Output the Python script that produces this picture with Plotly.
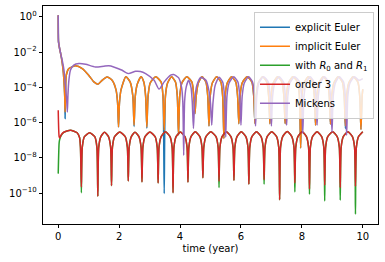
import plotly.graph_objects as go

# ---------------- data (log10 of the error) ----------------
# time points for the two low-error schemes (order 3 / with R0 and R1)
T_LOW = [0.00, 0.03, 0.05, 0.09, 0.18, 0.40, 0.62, 0.70, 0.73,
         0.76, 0.79, 0.86, 1.03, 1.20, 1.27,
         1.30, 1.33, 1.40, 1.52, 1.65, 1.72,
         1.75, 1.78, 1.85, 2.02, 2.20, 2.27,
         2.30, 2.33, 2.40, 2.52, 2.65, 2.72,
         2.75, 2.78, 2.85, 3.01, 3.18, 3.25,
         3.28, 3.31, 3.38, 3.52, 3.67, 3.74,
         3.77, 3.80, 3.87, 4.01, 4.16, 4.23,
         4.26, 4.29, 4.36, 4.50, 4.65, 4.72,
         4.75, 4.78, 4.85, 5.01, 5.18, 5.25,
         5.28, 5.31, 5.38, 5.52, 5.67, 5.74,
         5.77, 5.80, 5.87, 6.01, 6.16, 6.23,
         6.26, 6.29, 6.36, 6.51, 6.66, 6.73,
         6.76, 6.79, 6.86, 7.01, 7.17, 7.24,
         7.27, 7.30, 7.37, 7.52, 7.67, 7.74,
         7.77, 7.80, 7.87, 8.01, 8.15, 8.22,
         8.25, 8.28, 8.35, 8.50, 8.65, 8.72,
         8.75, 8.78, 8.85, 9.01, 9.16, 9.23,
         9.26, 9.29, 9.36, 9.51, 9.66, 9.73,
         9.76, 9.79, 9.86, 10.00]

LOG_ORDER3 = [-5.30, -6.80, -6.88, -6.72, -6.55, -6.44, -6.58, -6.85, -7.40,
              -9.66, -7.40, -6.80, -6.58, -6.80, -7.40,
              -10.19, -7.40, -6.80, -6.55, -6.80, -7.40,
              -9.58, -7.40, -6.80, -6.54, -6.80, -7.40,
              -9.32, -7.40, -6.80, -6.55, -6.80, -7.40,
              -9.37, -7.40, -6.80, -6.54, -6.80, -7.40,
              -9.43, -7.40, -6.80, -6.52, -6.80, -7.40,
              -9.98, -7.40, -6.80, -6.54, -6.80, -7.40,
              -9.39, -7.40, -6.80, -6.52, -6.80, -7.40,
              -9.14, -7.40, -6.80, -6.52, -6.80, -7.40,
              -9.33, -7.40, -6.80, -6.52, -6.80, -7.40,
              -9.28, -7.40, -6.80, -6.52, -6.80, -7.40,
              -9.50, -7.40, -6.80, -6.52, -6.80, -7.40,
              -9.24, -7.40, -6.80, -6.52, -6.80, -7.40,
              -10.38, -7.40, -6.80, -6.50, -6.80, -7.40,
              -9.43, -7.40, -6.80, -6.52, -6.80, -7.40,
              -9.77, -7.40, -6.80, -6.52, -6.80, -7.40,
              -9.56, -7.40, -6.80, -6.52, -6.80, -7.40,
              -9.69, -7.40, -6.80, -6.52, -6.80, -7.40,
              -9.62, -7.40, -6.80, -6.52]

LOG_R0R1 = [-8.90, -7.15, -6.95, -6.75, -6.55, -6.44, -6.58, -6.85, -7.40,
            -9.98, -7.40, -6.80, -6.58, -6.80, -7.40,
            -10.19, -7.40, -6.80, -6.55, -6.80, -7.40,
            -9.58, -7.40, -6.80, -6.54, -6.80, -7.40,
            -9.32, -7.40, -6.80, -6.55, -6.80, -7.40,
            -9.37, -7.40, -6.80, -6.54, -6.80, -7.40,
            -9.43, -7.40, -6.80, -6.52, -6.80, -7.40,
            -9.98, -7.40, -6.80, -6.54, -6.80, -7.40,
            -9.39, -7.40, -6.80, -6.52, -6.80, -7.40,
            -9.14, -7.40, -6.80, -6.52, -6.80, -7.40,
            -9.69, -7.40, -6.80, -6.52, -6.80, -7.40,
            -9.28, -7.40, -6.80, -6.52, -6.80, -7.40,
            -9.50, -7.40, -6.80, -6.52, -6.80, -7.40,
            -9.50, -7.40, -6.80, -6.52, -6.80, -7.40,
            -10.38, -7.40, -6.80, -6.50, -6.80, -7.40,
            -9.94, -7.40, -6.80, -6.52, -6.80, -7.40,
            -10.07, -7.40, -6.80, -6.52, -6.80, -7.40,
            -10.45, -7.40, -6.80, -6.52, -6.80, -7.40,
            -10.41, -7.40, -6.80, -6.52, -6.80, -7.40,
            -11.20, -7.40, -6.80, -6.52]

# time points for the Euler schemes
T_EULER = [0.000, 0.003, 0.010, 0.050, 0.080, 0.130, 0.170, 0.200, 0.215,
           0.225, 0.240, 0.265, 0.350, 0.570, 0.790, 1.000, 1.170, 1.300,
           1.440, 1.600, 1.770, 1.900, 1.950,
           1.980, 2.010, 2.060, 2.220, 2.360, 2.450,
           2.490, 2.530, 2.600, 2.720, 2.810, 2.870,
           2.910, 2.950, 3.020, 3.200, 3.380, 3.440,
           3.480, 3.520, 3.590, 3.720, 3.850, 3.910,
           3.950, 3.990, 4.060, 4.220, 4.390, 4.450,
           4.490, 4.530, 4.600, 4.720, 4.850, 4.910,
           4.950, 4.990, 5.060, 5.200, 5.340, 5.400,
           5.440, 5.480, 5.550, 5.690, 5.830, 5.890,
           5.930, 5.970, 6.040, 6.200, 6.360, 6.420,
           6.460, 6.500, 6.570, 6.710, 6.850, 6.910,
           6.950, 6.990, 7.060, 7.200, 7.350, 7.410,
           7.450, 7.490, 7.560, 7.700, 7.860, 7.920,
           7.960, 8.000, 8.070, 8.210, 8.350, 8.410,
           8.450, 8.490, 8.560, 8.700, 8.840, 8.900,
           8.940, 8.980, 9.050, 9.190, 9.330, 9.390,
           9.430, 9.470, 9.540, 9.680, 9.840, 9.900,
           9.940, 9.980, 10.000]

LOG_IMPLICIT = [0.10, -0.90, -1.42, -1.85, -2.08, -2.60, -3.20, -4.00, -4.60,
                -5.40, -4.30, -3.30, -2.93, -2.78, -2.93, -3.31, -3.69, -3.82,
                -3.60, -3.41, -3.60, -4.16, -4.90,
                -6.25, -4.90, -4.16, -3.40, -3.69, -4.50,
                -6.15, -4.50, -3.80, -3.40, -3.70, -4.50,
                -6.25, -4.50, -3.75, -3.40, -3.70, -4.50,
                -6.45, -4.50, -3.75, -3.40, -3.70, -4.50,
                -6.70, -4.50, -3.75, -3.40, -3.70, -4.50,
                -5.50, -4.50, -3.75, -3.40, -3.70, -4.50,
                -6.20, -4.50, -3.75, -3.40, -3.70, -4.50,
                -6.90, -4.50, -3.75, -3.40, -3.70, -4.50,
                -6.06, -4.50, -3.75, -3.40, -3.70, -4.50,
                -6.06, -4.50, -3.75, -3.40, -3.70, -4.50,
                -6.06, -4.50, -3.75, -3.40, -3.70, -4.50,
                -6.06, -4.50, -3.75, -3.40, -3.70, -4.50,
                -7.44, -4.50, -3.75, -3.40, -3.70, -4.50,
                -6.15, -4.50, -3.75, -3.40, -3.70, -4.50,
                -6.10, -4.50, -3.75, -3.40, -3.70, -4.50,
                -6.20, -4.50, -3.75, -3.40, -3.70, -4.50,
                -6.40, -4.50, -4.10]

LOG_EXPLICIT = [0.10, -0.90, -1.42, -1.85, -2.08, -2.60, -3.20, -4.00, -4.60,
                -5.77, -4.30, -3.30, -2.93, -2.78, -2.93, -3.31, -3.69, -3.82,
                -3.60, -3.41, -3.60, -4.16, -4.90,
                -6.25, -4.90, -4.16, -3.40, -3.69, -4.50,
                -6.22, -4.50, -3.80, -3.40, -3.70, -4.50,
                -6.32, -4.50, -3.75, -3.40, -3.70, -4.50,
                -10.03, -4.50, -3.75, -3.40, -3.70, -4.50,
                -6.70, -4.50, -3.75, -3.40, -3.70, -4.50,
                -5.50, -4.50, -3.75, -3.40, -3.70, -4.50,
                -6.20, -4.50, -3.75, -3.40, -3.70, -4.50,
                -6.90, -4.50, -3.75, -3.40, -3.70, -4.50,
                -6.06, -4.50, -3.75, -3.40, -3.70, -4.50,
                -6.06, -4.50, -3.75, -3.40, -3.70, -4.50,
                -6.06, -4.50, -3.75, -3.40, -3.70, -4.50,
                -6.06, -4.50, -3.75, -3.40, -3.70, -4.50,
                -7.44, -4.50, -3.75, -3.40, -3.70, -4.50,
                -6.15, -4.50, -3.75, -3.40, -3.70, -4.50,
                -6.10, -4.50, -3.75, -3.40, -3.70, -4.50,
                -6.34, -4.50, -3.75, -3.40, -3.70, -4.50,
                -6.40, -4.50, -4.10]

# Mickens scheme
T_MICKENS = [0.000, 0.003, 0.010, 0.080, 0.130, 0.190, 0.240, 0.280,
             0.300, 0.320, 0.350, 0.400, 0.510, 0.680, 0.900, 1.220, 1.500,
             1.660, 1.820, 2.100, 2.300, 2.540, 2.700, 2.870, 3.150, 3.310,
             3.480, 3.690, 3.790, 3.950, 4.050, 4.090,
             4.120, 4.150, 4.200, 4.280, 4.360, 4.400,
             4.440, 4.480, 4.550, 4.680, 4.850, 4.950, 5.000,
             5.040, 5.080, 5.150, 5.280, 5.400, 5.460,
             5.500, 5.540, 5.610, 5.760, 5.900, 5.960,
             6.000, 6.040, 6.110, 6.250, 6.380, 6.440,
             6.480, 6.520, 6.590, 6.740, 6.900, 6.960,
             7.000, 7.040, 7.110, 7.250, 7.400, 7.460,
             7.500, 7.540, 7.610, 7.760, 7.930, 7.990,
             8.030, 8.070, 8.140, 8.270, 8.400, 8.460,
             8.500, 8.540, 8.610, 8.740, 8.880, 8.940,
             8.990, 9.030, 9.100, 9.230, 9.370, 9.430,
             9.470, 9.510, 9.580, 9.730, 9.870, 10.000]

LOG_MICKENS = [0.10, -0.94, -1.42, -2.08, -2.46, -3.03, -3.98, -4.80,
               -5.40, -4.40, -3.60, -3.03, -2.74, -2.65, -2.69, -2.84, -2.80,
               -2.78, -2.84, -3.03, -3.22, -3.09, -3.10, -3.22, -3.60, -4.10,
               -3.69, -3.31, -3.27, -3.45, -4.00, -4.80,
               -7.86, -4.80, -4.00, -3.60, -4.00, -4.80,
               -6.34, -4.80, -3.90, -3.44, -3.60, -4.20, -4.90,
               -6.15, -4.90, -3.90, -3.42, -3.70, -4.50,
               -6.82, -4.50, -3.75, -3.40, -3.70, -4.50,
               -6.15, -4.50, -3.75, -3.40, -3.70, -4.50,
               -6.20, -4.50, -3.75, -3.40, -3.70, -4.50,
               -6.20, -4.50, -3.75, -3.40, -3.70, -4.50,
               -6.15, -4.50, -3.75, -3.40, -3.70, -4.50,
               -6.60, -4.50, -3.75, -3.40, -3.70, -4.50,
               -6.15, -4.50, -3.75, -3.40, -3.70, -4.50,
               -6.53, -4.50, -3.75, -3.40, -3.70, -4.50,
               -6.72, -4.50, -3.75, -3.40, -3.60, -3.50]

SERIES_NAMES = ["explicit Euler", "implicit Euler",
                "with <i>R</i><sub>0</sub> and <i>R</i><sub>1</sub>",
                "order 3", "Mickens"]
SERIES_COLORS = ["#1f77b4", "#ff7f0e", "#2ca02c", "#d62728", "#9467bd"]

X_TICKS = [0, 2, 4, 6, 8, 10]
Y_TICK_EXPONENTS = [0, -2, -4, -6, -8, -10]
Y_TICK_TEXT = ["10<sup>0</sup>", "10<sup>\u22122</sup>", "10<sup>\u22124</sup>",
               "10<sup>\u22126</sup>", "10<sup>\u22128</sup>", "10<sup>\u221210</sup>"]

# ---------------- figure ----------------
series = [
    (T_EULER, LOG_EXPLICIT),
    (T_EULER, LOG_IMPLICIT),
    (T_LOW, LOG_R0R1),
    (T_LOW, LOG_ORDER3),
    (T_MICKENS, LOG_MICKENS),
]

fig = go.Figure()
for (t, logy), name, color in zip(series, SERIES_NAMES, SERIES_COLORS):
    fig.add_trace(go.Scatter(
        x=t, y=[10 ** v for v in logy], mode="lines", name=name,
        line=dict(color=color, width=1.5, shape="spline", smoothing=0.6),
    ))

fig.update_layout(
    width=385, height=262,
    margin=dict(l=43, r=7, t=6, b=38, autoexpand=False),
    paper_bgcolor="white", plot_bgcolor="white",
    font=dict(family="DejaVu Sans", size=10, color="black"),
    showlegend=True,
    legend=dict(x=0.988, y=0.974, xanchor="right", yanchor="top",
                bgcolor="rgba(255,255,255,0.8)", bordercolor="#cccccc",
                borderwidth=1, font=dict(size=10), tracegroupgap=0,
                itemwidth=30),
)
fig.update_xaxes(
    range=[-0.5, 10.5], tickvals=X_TICKS, ticks="outside", ticklen=3.5,
    tickwidth=0.8, tickcolor="black", showline=True, linecolor="black",
    linewidth=0.8, mirror=True, showgrid=False, zeroline=False,
    automargin=False,
    title=dict(text="time (year)", standoff=3, font=dict(size=10)),
)
fig.update_yaxes(
    type="log", range=[-11.76, 0.62],
    tickvals=[10 ** e for e in Y_TICK_EXPONENTS], ticktext=Y_TICK_TEXT,
    ticks="outside", ticklen=3.5, tickwidth=0.8, tickcolor="black",
    showline=True, linecolor="black", linewidth=0.8, mirror=True,
    showgrid=False, zeroline=False, automargin=False,
)

fig.write_html("out.html",
               config={"displayModeBar": False},
               post_script="document.body.style.margin='0';"
                           "document.body.style.padding='0';")
